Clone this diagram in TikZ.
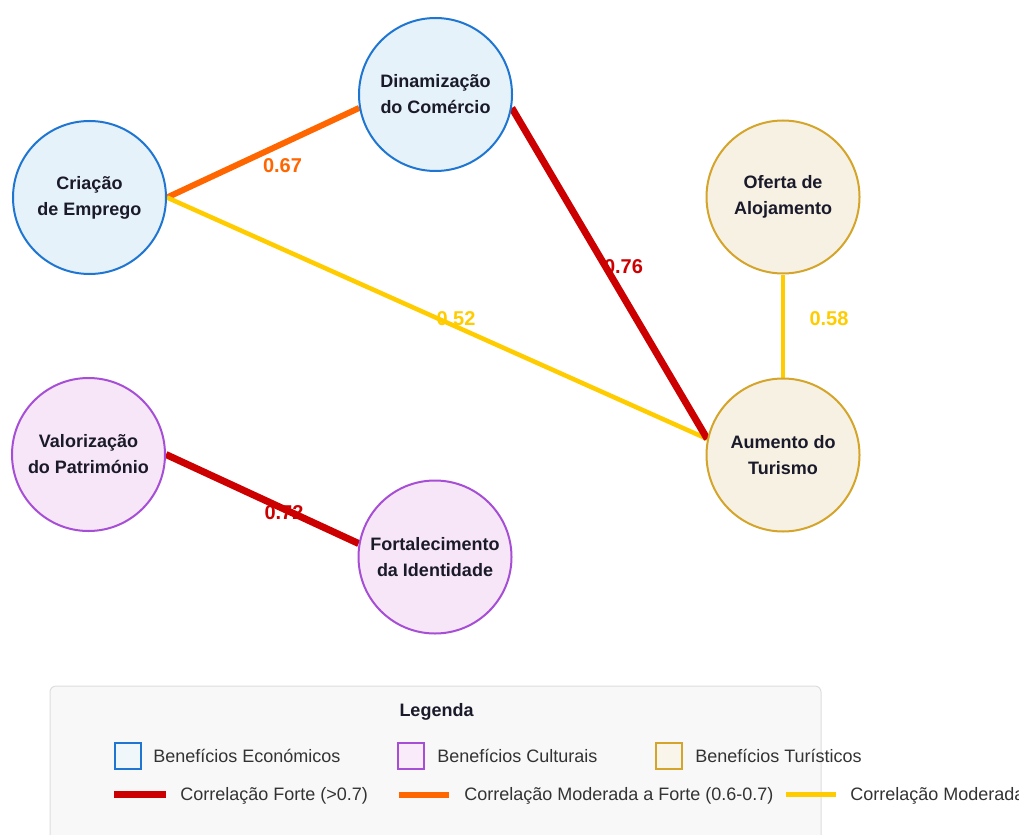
\documentclass[tikz,border=0pt]{standalone}
\usepackage{fontspec}
\setmainfont{Liberation Sans}
\definecolor{econline}{HTML}{1E76D2}
\definecolor{econfill}{HTML}{E6F2F9}
\definecolor{cultline}{HTML}{A64FD6}
\definecolor{cultfill}{HTML}{F7E6F7}
\definecolor{turline}{HTML}{D4A52A}
\definecolor{turfill}{HTML}{F6F1E3}
\definecolor{cstrong}{HTML}{CC0000}
\definecolor{cmodstrong}{HTML}{FF6600}
\definecolor{cmod}{HTML}{FFCC00}
\definecolor{ink}{HTML}{1A1A2A}
\definecolor{legtxt}{HTML}{333333}
\definecolor{legbg}{HTML}{F8F8F8}
\definecolor{legborder}{HTML}{DDDDDD}
\pgfdeclarelayer{labels}
\pgfdeclarelayer{edges}
\pgfsetlayers{labels,edges,main}
\tikzset{
  bene/.style={circle, minimum size=114.75pt, inner sep=0pt, line width=1.5pt,
    font=\fontsize{13.5}{19.5}\selectfont\bfseries, text=ink, align=center},
  econ/.style={bene, draw=econline, fill=econfill},
  cult/.style={bene, draw=cultline, fill=cultfill},
  tur/.style={bene, draw=turline, fill=turfill},
  strongedge/.style={draw=cstrong, line width=5.25pt},
  modstrongedge/.style={draw=cmodstrong, line width=4.5pt},
  modedge/.style={draw=cmod, line width=3.4pt},
  corrlabel/.style={font=\fontsize{15}{18}\selectfont\bfseries, inner sep=0pt},
  legtext/.style={font=\fontsize{13.5}{16}\selectfont, text=legtxt, inner sep=0pt, anchor=base west},
  legsq/.style={rectangle, minimum size=19.5pt, inner sep=0pt, line width=1.5pt},
}
\begin{document}
\begin{tikzpicture}[x=0.75pt,y=-0.75pt]
\useasboundingbox (0,0) rectangle (1019,834);
\clip (0,0) rectangle (1019,834);

% nodes
\node[econ] (criacao) at (89.5,197.5) {Criação\\de Emprego};
\node[econ] (dinam) at (435.5,94.5) {Dinamização\\do Comércio};
\node[tur] (oferta) at (783,197) {Oferta de\\Alojamento};
\node[tur] (aumento) at (783,455) {Aumento do\\Turismo};
\node[cult] (valor) at (88.5,454.5) {Valorização\\do Património};
\node[cult] (forta) at (435,557) {Fortalecimento\\da Identidade};

% labels (behind the lines)
\begin{pgfonlayer}{labels}
\node[corrlabel, text=cmodstrong] (l067) at (282.5,165.5) {0.67};
\node[corrlabel, text=cstrong] (l076) at (623.5,266.5) {0.76};
\node[corrlabel, text=cmod] (l052) at (456,318.5) {0.52};
\node[corrlabel, text=cmod] (l058) at (829,318.5) {0.58};
\node[corrlabel, text=cstrong] (l072) at (284,512.5) {0.72};
\end{pgfonlayer}

% connectors
\begin{pgfonlayer}{edges}
\draw[modstrongedge] (criacao.east) -- (dinam.190);
\draw[modedge] (criacao.east) -- (aumento.168);
\draw[strongedge] (dinam.-10) -- (aumento.168);
\draw[modedge] (oferta.south) -- (aumento.north);
\draw[strongedge] (valor.east) -- (forta.170);
\end{pgfonlayer}

% legend
\draw[fill=legbg, draw=legborder, line width=0.75pt, rounded corners=4.5pt] (50,686) rectangle (821,860);
\node[font=\fontsize{13.5}{16}\selectfont\bfseries, text=ink, inner sep=0pt] (legtitle) at (436.5,712) {Legenda};

\node[legsq, draw=econline, fill=econfill!60] (sqecon) at (127.5,756) {};
\node[legtext] (txecon) at (153,762.5) {Benefícios Económicos};
\node[legsq, draw=cultline, fill=cultfill!80] (sqcult) at (411,756) {};
\node[legtext] (txcult) at (437,762.5) {Benefícios Culturais};
\node[legsq, draw=turline, fill=turfill!70] (sqtur) at (669,756) {};
\node[legtext] (txtur) at (695,762.5) {Benefícios Turísticos};

\coordinate (ls1a) at (114,794.5); \coordinate (ls1b) at (166,794.5);
\coordinate (ls2a) at (399,794.5); \coordinate (ls2b) at (449,794.5);
\coordinate (ls3a) at (786,794.5); \coordinate (ls3b) at (836,794.5);
\draw[draw=cstrong, line width=5.25pt] (ls1a) -- (ls1b);
\node[legtext] (txstrong) at (180,800.5) {Correlação Forte (>0.7)};
\draw[draw=cmodstrong, line width=4.5pt] (ls2a) -- (ls2b);
\node[legtext] (txmodstrong) at (464,800.5) {Correlação Moderada a Forte (0.6-0.7)};
\draw[draw=cmod, line width=3.75pt] (ls3a) -- (ls3b);
\node[legtext] (txmod) at (850,800.5) {Correlação Moderada};
\end{tikzpicture}
\end{document}
